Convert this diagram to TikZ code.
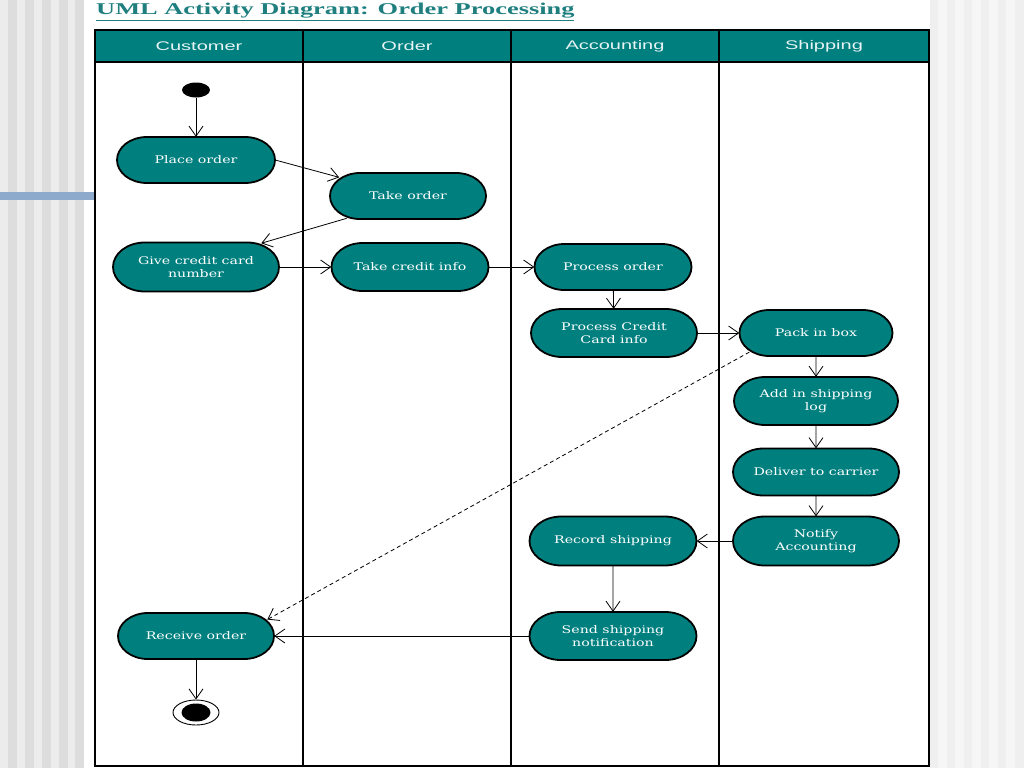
\documentclass[tikz,border=0pt]{standalone}
\usepackage{fontspec}
\setmainfont{DejaVu Serif}
\newfontfamily\nodefont[FakeStretch=1.35]{DejaVu Serif}
\newfontfamily\headfont[FakeStretch=1.6]{Liberation Sans}
\newfontfamily\titlefont[FakeStretch=1.6]{Liberation Serif}
\usetikzlibrary{shapes.misc,shapes.geometric,arrows.meta}
\definecolor{tealfill}{HTML}{007F7F}
\definecolor{titleteal}{HTML}{1F7F7F}
\definecolor{stripedark}{HTML}{DDDDDD}
\definecolor{stripelight}{HTML}{ECECEC}
\definecolor{stripeR1}{HTML}{EFEFEF}
\definecolor{stripeR2}{HTML}{F6F6F6}
\definecolor{bluebar}{HTML}{8DA9CC}
\definecolor{headtext}{HTML}{E8F4F4}
\tikzset{
  act/.style={rounded rectangle, draw=none, fill=none,
    text=white, align=center, inner sep=0pt,
    font=\nodefont\fontsize{10.5}{13}\selectfont},
  stadium/.style={draw=black, line width=1.8pt, fill=tealfill},
  arr/.style={draw=black, line width=0.8pt, -{Straight Barb[length=10pt,width=14pt,line width=0.8pt]}},
  dasharr/.style={arr, dash pattern=on 4pt off 3pt},
  tbl/.style={draw=black, line width=1.5pt},
  headlbl/.style={text=headtext, font=\headfont\fontsize{12.5}{14}\selectfont, inner sep=0pt},
}
% #1 name, #2 x, #3 y, #4 width, #5 height, #6 text
\newcommand\actnode[6]{%
  \pgfmathsetmacro\ea{0.65*#5}%
  \pgfmathsetmacro\eb{#5/2}%
  \draw[stadium] ({#2+#4/2-\ea},{#3-#5/2})
    arc[start angle=270, end angle=450, x radius=\ea, y radius=\eb]
    -- ({#2-#4/2+\ea},{#3+#5/2})
    arc[start angle=90, end angle=270, x radius=\ea, y radius=\eb]
    -- cycle;
  \node[act, minimum width=#4pt, minimum height=#5pt] (#1) at (#2,#3) {#6};
}
\begin{document}
\begin{tikzpicture}[x=1pt,y=-1pt]
\useasboundingbox (0,0) rectangle (1024,768);
% background
\fill[white] (0,0) rectangle (1024,768);
\fill[stripelight] (0,0) rectangle (82,768);
\foreach \sx in {8,25,42,59,75} {
  \fill[stripedark] (\sx,0) rectangle ++(8.5,768);
}
\fill[stripeR1] (930,0) rectangle (1024,768);
\foreach \sx in {938,955,972,989,1006} {
  \fill[stripeR2] (\sx,0) rectangle ++(8.5,768);
}
\fill[bluebar] (0,192) rectangle (95,200);
% title
\node[anchor=base west, inner sep=0pt, text=titleteal,
  font=\titlefont\bfseries\fontsize{16.5}{18}\selectfont] (title) at (96,15)
  {\underline{UML Activity Diagram: Order Processing}};
% table
\fill[tealfill] (95,30) rectangle (929,62);
\draw[tbl] (95,30) rectangle (929,766);
\draw[tbl] (95,62) -- (929,62);
\foreach \vx in {303,511,719} { \draw[tbl] (\vx,30) -- (\vx,766); }
\node[headlbl] (hc) at (199,46) {Customer};
\node[headlbl] (ho) at (407,46) {Order};
\node[headlbl] (ha) at (615,46) {Accounting};
\node[headlbl] (hs) at (824,46) {Shipping};
% nodes
\node[ellipse, fill=black, minimum width=28pt, minimum height=15pt, inner sep=0pt] (start) at (196,90) {};
\actnode{n1}{196}{160}{158}{46}{Place order}
\actnode{n2}{408}{196}{156}{46}{Take order}
\actnode{n3}{196}{267}{166}{49}{Give credit card\\number}
\actnode{n4}{410}{267}{157}{48}{Take credit info}
\actnode{n5}{613}{267}{157}{46}{Process order}
\actnode{n6}{614}{333}{166}{48}{Process Credit\\Card info}
\actnode{n7}{816}{333}{153}{46}{Pack in box}
\actnode{n8}{816}{401}{164}{48}{Add in shipping\\log}
\actnode{n9}{816}{472}{166}{47}{Deliver to carrier}
\actnode{n10}{816}{541}{166}{49}{Notify\\Accounting}
\actnode{n11}{613}{541}{167}{49}{Record shipping}
\actnode{n12}{613}{636}{167}{48}{Send shipping\\notification}
\actnode{n13}{196}{636}{156}{46}{Receive order}
\node[ellipse, draw=black, line width=0.9pt, fill=white, minimum width=46pt, minimum height=25pt, inner sep=0pt] (end) at (196,712.5) {};
\node[ellipse, fill=black, minimum width=29pt, minimum height=18pt, inner sep=0pt] (endin) at (196,712.5) {};
% connectors
\draw[arr] (start) -- (n1);
\draw[arr] (n1.east) -- (n2);
\draw[arr] (n2.200) -- (n3.20);
\draw[arr] (n3.east) -- (n4.west);
\draw[arr] (n4.east) -- (n5.west);
\draw[arr] (n5) -- (n6);
\draw[arr] (n6.east) -- (n7.west);
\draw[arr] (n7) -- (n8);
\draw[arr] (n8) -- (n9);
\draw[arr] (n9) -- (n10);
\draw[arr] (n10.west) -- (n11.east);
\draw[arr] (n11) -- (n12);
\draw[arr] (n12.west) -- (n13.east);
\draw[arr] (n13.south) -- (end.north);
\draw[dasharr] (n7.196) -- (n13.13);
\end{tikzpicture}
\end{document}
